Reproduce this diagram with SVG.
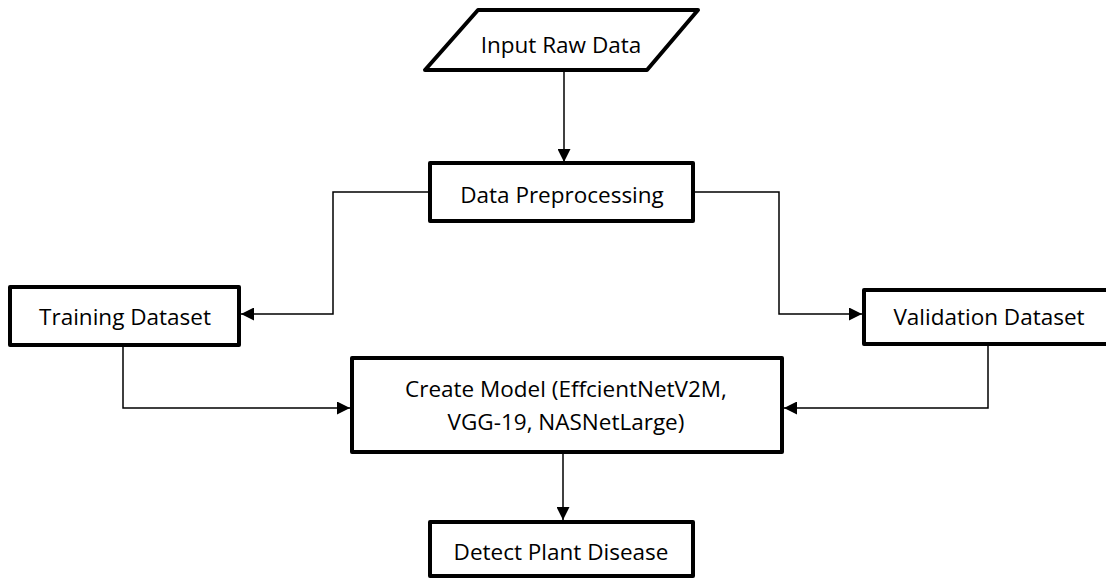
<svg xmlns="http://www.w3.org/2000/svg" width="1106" height="578" viewBox="0 0 1106 578">
<style>
.box{fill:#fff;stroke:#000;stroke-width:4;stroke-linejoin:round}
.lbl{font-family:"Open Sans","Noto Sans",sans-serif;font-size:22.5px;fill:#000;text-anchor:middle}
.con{fill:none;stroke:#000;stroke-width:1.5}
</style>
<defs>
<marker id="ah" viewBox="0 0 13 13" refX="13" refY="6.5" markerWidth="13" markerHeight="13" markerUnits="userSpaceOnUse" orient="auto">
<path d="M0,0 L13,6.5 L0,13 Z" fill="#000"/>
</marker>
</defs>
<g id="connectors">
<path class="con" d="M564,70 V162" marker-end="url(#ah)"/>
<path class="con" d="M430,192 H333 V314 H241" marker-end="url(#ah)"/>
<path class="con" d="M693,192 H779 V314 H862" marker-end="url(#ah)"/>
<path class="con" d="M123,345 V408 H350" marker-end="url(#ah)"/>
<path class="con" d="M988,344 V408 H784" marker-end="url(#ah)"/>
<path class="con" d="M563,452 V520" marker-end="url(#ah)"/>
</g>
<g id="input">
<polygon class="box" points="478,10 698,10 647,70 425,70"/>
<text class="lbl" x="561" y="53">Input Raw Data</text>
</g>
<g id="preprocess">
<rect class="box" x="430" y="163" width="263" height="58"/>
<text class="lbl" x="562" y="203">Data Preprocessing</text>
</g>
<g id="training">
<rect class="box" x="10" y="287" width="229" height="58"/>
<text class="lbl" x="125" y="325">Training Dataset</text>
</g>
<g id="validation">
<rect class="box" x="864" y="290" width="250" height="54"/>
<text class="lbl" x="989" y="325">Validation Dataset</text>
</g>
<g id="model">
<rect class="box" x="352" y="358" width="430" height="94"/>
<text class="lbl" x="566" y="397">Create Model (EffcientNetV2M,</text>
<text class="lbl" x="566" y="430">VGG-19, NASNetLarge)</text>
</g>
<g id="detect">
<rect class="box" x="430" y="522" width="263" height="54"/>
<text class="lbl" x="561" y="560">Detect Plant Disease</text>
</g>
</svg>
